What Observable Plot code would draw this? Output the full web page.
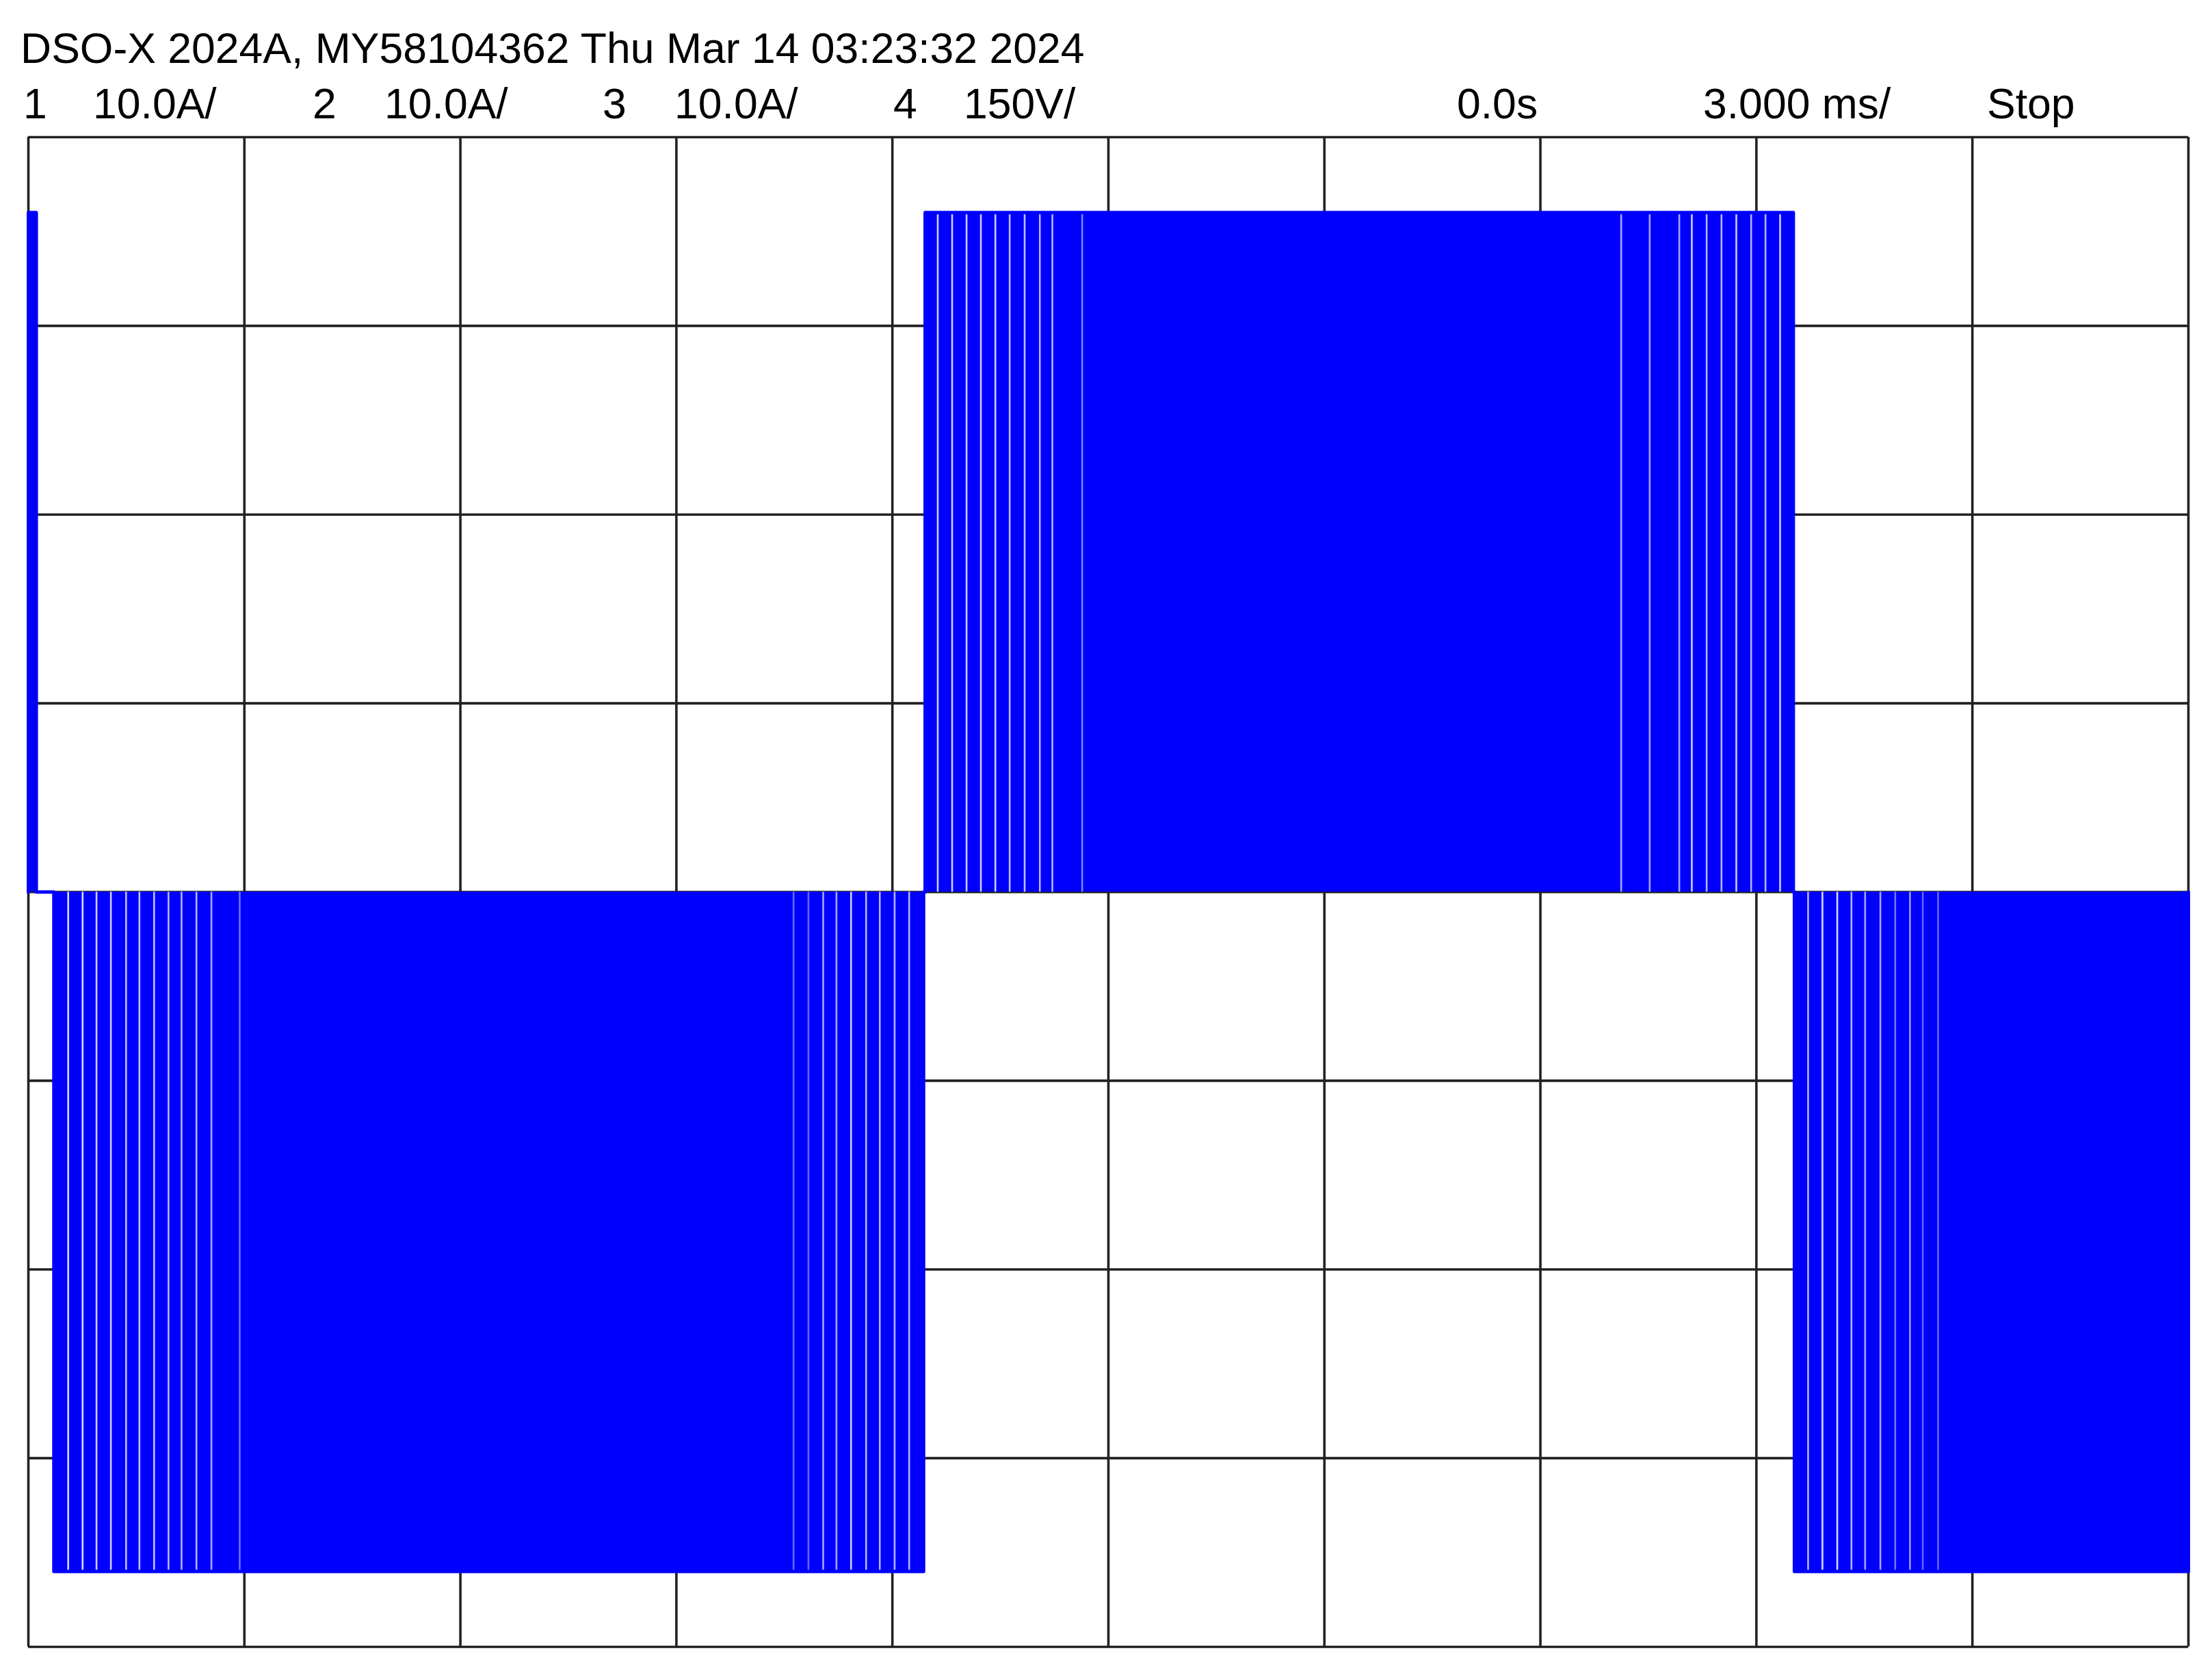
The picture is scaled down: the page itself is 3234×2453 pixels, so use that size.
<!DOCTYPE html>
<html>
<head>
<meta charset="utf-8">
<script src="https://cdn.jsdelivr.net/npm/d3@7"></script>
<script src="https://cdn.jsdelivr.net/npm/@observablehq/plot@0.6"></script>
<style>
  html, body { margin: 0; padding: 0; background: #fff; }
  #page { position: relative; width: 3234px; height: 2453px; overflow: hidden; background: #fff; }
  .lbl { position: absolute; font-family: "Liberation Sans", Arial, Helvetica, sans-serif; font-size: 62.5px; line-height: 62px; color: #000; white-space: pre; }
  #chart { position: absolute; left: 0; top: 190px; }
</style>
</head>
<body>
<div id="page"></div>
<script>
// ---- header texts (scope status line) ----
const titleText = "DSO-X 2024A, MY58104362 Thu Mar 14 03:23:32 2024";
const statusLabels = ["1", "10.0A/", "2", "10.0A/", "3", "10.0A/", "4", "150V/", "0.0s", "3.000 ms/", "Stop"];
const statusLeft   = [34, 136, 457, 562, 881, 986, 1306, 1409, 2130, 2490, 2905];

// ---- graticule (ms, volts): 3.000 ms/div, 150 V/div ----
const timeTicks = [-15, -12, -9, -6, -3, 0, 3, 6, 9, 12, 15];
const voltTicks = [-600, -450, -300, -150, 0, 150, 300, 450, 600];

// ---- channel 4 trace: PWM half-cycle blocks (ms, V) ----
const blockStart = [-15, -14.646, -2.545, 9.528];
const blockEnd   = [-14.89, -2.567, 9.513, 15];
const blockLevel = [540, -540, 540, -540];

// ---- visible low-time gaps (ms) inside the blocks, with their visibility ----
const gapTimes = [
  -14.447, -14.247, -14.054, -13.854, -13.643, -13.458, -13.254, -13.054, -12.873, -12.666, -12.458, -12.065,
  -4.373, -4.166, -3.961, -3.777, -3.574, -3.365, -3.175, -2.969, -2.767,
  -2.370, -2.170, -1.970, -1.771, -1.570, -1.371, -1.163, -0.952, -0.778, -0.364,
  7.122, 7.518, 7.929, 8.103, 8.309, 8.515, 8.721, 8.927, 9.126, 9.329,
  9.718, 9.917, 10.123, 10.320, 10.510, 10.722, 10.928, 11.133, 11.311, 11.523
];
const gapStrength = [
  0.85, 0.85, 0.8, 0.8, 0.75, 0.75, 0.75, 0.7, 0.7, 0.7, 0.65, 0.45,
  0.4, 0.4, 0.65, 0.65, 0.8, 0.7, 0.7, 0.7, 0.7,
  0.8, 0.8, 0.8, 0.8, 0.8, 0.75, 0.75, 0.7, 0.7, 0.5,
  0.65, 0.65, 0.65, 0.8, 0.7, 0.7, 0.8, 0.7, 0.7, 0.8,
  0.7, 0.85, 0.85, 0.7, 0.65, 0.65, 0.45, 0.6, 0.4, 0.4
];

// ---- build tables from the arrays ----
const blocks = blockStart.map((s, i) => ({x1: s, x2: blockEnd[i], level: blockLevel[i]}));
const outline = blocks.flatMap(b => [
  {t: b.x1, v: 0}, {t: b.x1, v: b.level}, {t: b.x2, v: b.level}, {t: b.x2, v: 0}
]);
const gaps = gapTimes.map((t, i) => {
  const b = blocks.find(b => t >= b.x1 && t <= b.x2);
  return {t, level: b ? b.level : 0, s: gapStrength[i]};
});

const page = document.getElementById("page");

const title = document.createElement("div");
title.className = "lbl";
title.style.left = "30px";
title.style.top = "39px";
title.textContent = titleText;
page.appendChild(title);

statusLabels.forEach((txt, i) => {
  const d = document.createElement("div");
  d.className = "lbl";
  d.style.left = statusLeft[i] + "px";
  d.style.top = "120px";
  d.textContent = txt;
  page.appendChild(d);
});

const gridColor = "#222222";
const trace = "#0000ff";

const chart = Plot.plot({
  width: 3234,
  height: 2263,
  marginTop: 10,
  marginBottom: 46,
  marginLeft: 41,
  marginRight: 35,
  x: {domain: [-15, 15], axis: null},
  y: {domain: [-600, 600], axis: null},
  style: {background: "transparent", overflow: "visible"},
  marks: [
    Plot.ruleX(timeTicks, {stroke: gridColor, strokeWidth: 3.6}),
    Plot.ruleY(voltTicks, {stroke: gridColor, strokeWidth: 3.6}),
    Plot.rect(blocks, {x1: "x1", x2: "x2", y1: 0, y2: "level", fill: trace}),
    Plot.ruleX(gaps, {x: "t", y1: 0, y2: "level", stroke: "#ffffff", strokeOpacity: "s", strokeWidth: 2.6}),
    Plot.line(outline, {x: "t", y: "v", stroke: trace, strokeWidth: 5, curve: "linear"})
  ]
});
chart.id = "chart";
page.appendChild(chart);
</script>
</body>
</html>
